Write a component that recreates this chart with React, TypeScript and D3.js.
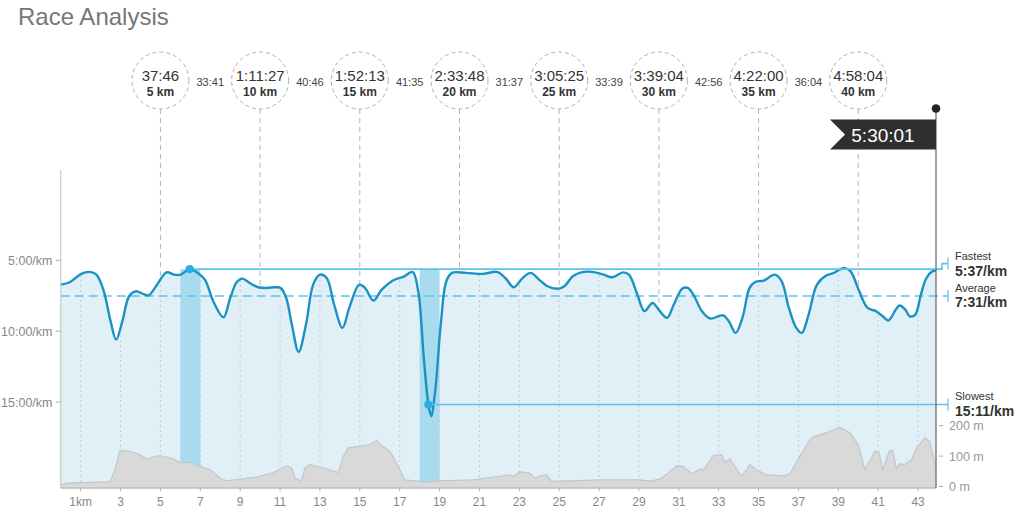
import React from "react";
import * as d3 from "d3";

// ---------- DATA ----------
const paceKm = [0, 0.47, 1.03, 1.45, 1.79, 2.16, 2.5, 2.78, 3.09, 3.43, 3.76, 4.13, 4.41, 4.83, 5.31, 5.68, 6.02, 6.47, 6.86, 7.23, 7.65, 8.16, 8.5, 8.83, 9.11, 9.48, 9.9, 10.33, 10.75, 11.03, 11.31, 11.59, 11.93, 12.3, 12.66, 13.0, 13.34, 13.71, 14.13, 14.47, 14.97, 15.26, 15.68, 16.1, 16.66, 17.23, 17.65, 17.93, 18.21, 18.44, 18.58, 18.78, 19.06, 19.34, 19.62, 20.33, 21.17, 21.88, 22.3, 22.72, 23.14, 23.57, 23.99, 24.41, 24.97, 25.26, 25.68, 26.1, 26.66, 27.23, 27.65, 28.21, 28.5, 28.92, 29.28, 29.68, 30.05, 30.41, 30.75, 31.17, 31.45, 31.73, 32.16, 32.58, 33.0, 33.23, 33.51, 33.85, 34.19, 34.55, 34.83, 35.26, 35.82, 36.16, 36.52, 36.89, 37.17, 37.51, 37.93, 38.41, 38.78, 39.06, 39.34, 39.62, 40.05, 40.47, 40.89, 41.23, 41.51, 41.88, 42.07, 42.36, 42.58, 42.86, 43.14, 43.42, 43.71, 43.9];
const paceMin = [6.72, 6.53, 5.96, 5.82, 6.01, 7.19, 9.3, 10.59, 9.3, 7.54, 7.19, 7.37, 7.47, 6.72, 5.85, 6.01, 6.01, 5.62, 5.89, 6.36, 7.89, 9.02, 7.66, 6.53, 6.29, 6.6, 6.9, 6.95, 6.9, 6.95, 7.66, 9.53, 11.46, 9.53, 6.72, 6.01, 6.25, 8.12, 9.77, 8.36, 6.72, 6.95, 7.84, 7.07, 6.43, 6.13, 5.82, 7.19, 11.88, 15.17, 15.99, 14.23, 9.53, 6.48, 5.89, 5.89, 5.96, 5.82, 6.25, 6.9, 6.29, 5.89, 6.36, 6.83, 7.0, 6.83, 6.13, 5.85, 5.82, 6.01, 6.2, 5.85, 6.01, 7.42, 8.59, 8.01, 8.59, 9.06, 8.12, 7.0, 6.95, 7.42, 8.59, 9.11, 8.95, 8.88, 9.3, 10.12, 9.06, 6.95, 6.53, 6.43, 6.01, 6.48, 8.36, 9.77, 10.12, 8.83, 6.72, 6.06, 5.89, 5.66, 5.55, 5.78, 7.19, 8.36, 8.59, 8.95, 9.25, 8.48, 8.19, 8.48, 8.95, 8.83, 7.42, 6.25, 5.78, 5.73];

const elevKm = [0, 0.3, 0.97, 2.47, 2.72, 2.97, 3.47, 3.97, 4.31, 4.64, 4.98, 5.64, 5.98, 6.48, 6.98, 7.48, 8.07, 8.32, 8.99, 9.83, 10.66, 11.33, 11.58, 11.75, 12.08, 12.25, 12.5, 13.17, 13.92, 14.17, 14.42, 15.01, 15.51, 15.88, 16.01, 16.51, 17.01, 17.26, 18.02, 18.52, 19.02, 20.69, 22.53, 22.7, 23.03, 23.53, 23.78, 24.04, 24.37, 24.62, 25.04, 27.04, 29.05, 29.55, 30.05, 30.47, 30.89, 31.22, 31.64, 32.06, 32.22, 32.73, 33.15, 33.31, 33.56, 34.15, 34.57, 34.9, 35.4, 36.24, 36.57, 37.07, 37.66, 38.41, 39.08, 39.58, 40.0, 40.33, 40.84, 41.05, 41.22, 41.55, 41.72, 41.92, 42.08, 42.33, 42.67, 42.93, 43.34, 43.59, 43.9];
const elevM = [5, 11, 13, 15, 55, 119, 116, 105, 91, 97, 102, 91, 79, 79, 66, 55, 24, 19, 24, 31, 46, 68, 61, 27, 19, 61, 72, 61, 46, 99, 127, 133, 138, 153, 138, 116, 55, 22, 17, 15, 19, 22, 38, 33, 49, 44, 27, 35, 38, 18, 18, 22, 22, 18, 24, 44, 68, 66, 42, 57, 53, 102, 105, 79, 91, 33, 72, 55, 38, 35, 42, 99, 161, 177, 194, 177, 138, 55, 116, 111, 55, 116, 119, 57, 75, 72, 88, 127, 161, 146, 61];

const splitKm = [5, 10, 15, 20, 25, 30, 35, 40];
const splitTimes = ["37:46", "1:11:27", "1:52:13", "2:33:48", "3:05:25", "3:39:04", "4:22:00", "4:58:04"];
const splitDiffs = ["33:41", "40:46", "41:35", "31:37", "33:39", "42:56", "36:04"];

const paceTicks = [5, 10, 15];
const paceTickLabels = ["5:00/km", "10:00/km", "15:00/km"];
const elevTicks = [0, 100, 200];
const kmTicks = [1, 3, 5, 7, 9, 11, 13, 15, 17, 19, 21, 23, 25, 27, 29, 31, 33, 35, 37, 39, 41, 43];

const fastest = { km: 6.47, pace: 5.62, label: "5:37/km", bandStart: 6, bandEnd: 7 };
const slowest = { km: 18.44, pace: 15.18, label: "15:11/km", bandStart: 18, bandEnd: 19 };
const average = { pace: 7.52, label: "7:31/km" };
const finishTime = "5:30:01";
const totalKm = 43.9;

// ---------- LAYOUT ----------
const W = 1024, H = 521;
const plotLeft = 60.75, plotRight = 936, plotTop = 170, plotBottom = 488;
const FONT = "'Liberation Sans', Arial, Helvetica, sans-serif";

export default function App() {
  const x = d3.scaleLinear().domain([0, totalKm]).range([plotLeft, plotRight]);
  const y = d3.scaleLinear().domain([5, 15]).range([260.3, 402]);
  const yE = d3.scaleLinear().domain([0, 200]).range([486.5, 425.7]);

  const pts: [number, number][] = paceKm.map((k, i) => [k, paceMin[i]]);
  const curve = d3.curveCatmullRom.alpha(0.5);
  const line = d3.line<[number, number]>().x(d => x(d[0])).y(d => y(d[1])).curve(curve);
  const area = d3.area<[number, number]>().x(d => x(d[0])).y0(plotBottom).y1(d => y(d[1])).curve(curve);

  const ePts: [number, number][] = elevKm.map((k, i) => [k, elevM[i]]);
  const eArea = d3.area<[number, number]>().x(d => x(d[0])).y0(plotBottom).y1(d => yE(d[1]));
  const eLine = d3.line<[number, number]>().x(d => x(d[0])).y(d => yE(d[1]));

  const paceAt = (k: number) => {
    const i = d3.bisector((d: number) => d).left(paceKm, k);
    if (i <= 0) return paceMin[0];
    if (i >= paceKm.length) return paceMin[paceMin.length - 1];
    const t = (k - paceKm[i - 1]) / (paceKm[i] - paceKm[i - 1]);
    return paceMin[i - 1] + t * (paceMin[i] - paceMin[i - 1]);
  };

  const circleY = 80.5, circleR = 28.5;
  const lineBlue = "#1a92c4";
  const lightBlue = "#5cc3ec";
  const yF = y(fastest.pace), yA = y(average.pace), yS = y(slowest.pace);
  const tickX = 948;

  return (
    <svg width={W} height={H} style={{ position: "absolute", left: 0, top: 0, background: "#fff" }} fontFamily={FONT}>
      <defs>
        <clipPath id="areaClip">
          <path d={area(pts) || ""} />
        </clipPath>
      </defs>
      <text x={18} y={25} fontSize={24} fill="#777" fontWeight={300}>Race Analysis</text>

      {/* pace area */}
      <path d={area(pts) || ""} fill="#e1eff7" />
      {/* bands */}
      <rect x={x(fastest.bandStart)} y={yF} width={x(fastest.bandEnd) - x(fastest.bandStart)} height={plotBottom - yF} fill="#a8dbee" />
      <rect x={x(slowest.bandStart)} y={yF} width={x(slowest.bandEnd) - x(slowest.bandStart)} height={plotBottom - yF} fill="#a8dbee" />

      {/* odd km grid lines inside area */}
      <g clipPath="url(#areaClip)">
        {kmTicks.map(k => (
          <line key={k} x1={x(k)} x2={x(k)} y1={plotTop} y2={plotBottom} stroke="#c4ccd2" strokeDasharray="2,3" strokeWidth={1} />
        ))}
      </g>

      {/* elevation */}
      <path d={eArea(ePts) || ""} fill="#d9d9d9" />
      <path d={eLine(ePts) || ""} fill="none" stroke="#bfc8ce" strokeWidth={1.2} />

      {/* split connectors and circles */}
      {splitKm.map((k, i) => (
        <g key={k}>
          <line x1={x(k)} x2={x(k)} y1={circleY + circleR} y2={y(paceAt(k))} stroke="#b5b5b5" strokeDasharray="5,4" />
          <circle cx={x(k)} cy={circleY} r={circleR} fill="#fff" stroke="#b0b0b0" strokeDasharray="4,3" />
          <text x={x(k)} y={81} textAnchor="middle" fontSize={15} fill="#333">{splitTimes[i]}</text>
          <text x={x(k)} y={95.5} textAnchor="middle" fontSize={12} fontWeight="bold" fill="#333">{k} km</text>
        </g>
      ))}
      {splitDiffs.map((s, i) => (
        <text key={s + i} x={x((splitKm[i] + splitKm[i + 1]) / 2)} y={86} textAnchor="middle" fontSize={11} fill="#444">{s}</text>
      ))}

      {/* average line */}
      <line x1={plotLeft} x2={tickX} y1={yA} y2={yA} stroke={lightBlue} strokeWidth={1.6} strokeDasharray="9,5" />
      <line x1={tickX} x2={tickX} y1={yA - 6} y2={yA + 6} stroke={lightBlue} strokeWidth={1.2} />

      {/* pace line */}
      <path d={line(pts) || ""} fill="none" stroke={lineBlue} strokeWidth={2.4} />

      {/* fastest */}
      <path d={`M${x(fastest.km)},${yF}H${942}V${yF - 5.5}H${tickX}`} fill="none" stroke={lightBlue} strokeWidth={1.6} />
      <line x1={tickX} x2={tickX} y1={yF - 11.5} y2={yF + 0.5} stroke={lightBlue} strokeWidth={1.2} />
      <circle cx={x(fastest.km)} cy={yF} r={4.2} fill="#2aace2" />
      {/* slowest */}
      <line x1={x(slowest.km)} x2={tickX} y1={yS} y2={yS} stroke={lightBlue} strokeWidth={1.6} />
      <line x1={tickX} x2={tickX} y1={yS - 6} y2={yS + 6} stroke={lightBlue} strokeWidth={1.2} />
      <circle cx={x(slowest.km)} cy={yS} r={4.2} fill="#2aace2" />

      {/* right labels */}
      <text x={955} y={260} fontSize={11} fill="#333">Fastest</text>
      <text x={955} y={275.5} fontSize={14} fontWeight="bold" fill="#333">{fastest.label}</text>
      <text x={955} y={292} fontSize={11} fill="#333">Average</text>
      <text x={955} y={307} fontSize={14} fontWeight="bold" fill="#333">{average.label}</text>
      <text x={955} y={400} fontSize={11} fill="#333">Slowest</text>
      <text x={955} y={415.5} fontSize={14} fontWeight="bold" fill="#333">{slowest.label}</text>

      {/* axes */}
      <line x1={plotLeft} x2={plotLeft} y1={plotTop} y2={plotBottom} stroke="#c8c8c8" strokeWidth={1.2} />
      <line x1={plotLeft} x2={plotRight} y1={plotBottom} y2={plotBottom} stroke="#bdbdbd" strokeWidth={1.5} />
      {paceTicks.map((p, i) => (
        <g key={p}>
          <line x1={plotLeft - 5} x2={plotLeft} y1={y(p)} y2={y(p)} stroke="#aaa" />
          <text x={52.5} y={y(p) + 4.5} textAnchor="end" fontSize={12.5} fill="#888">{paceTickLabels[i]}</text>
        </g>
      ))}
      {kmTicks.map((k, i) => (
        <g key={k}>
          <line x1={x(k)} x2={x(k)} y1={plotBottom} y2={plotBottom + 3} stroke="#aaa" />
          <text x={x(k)} y={506} textAnchor="middle" fontSize={12} fill="#888">{i === 0 ? `${k}km` : k}</text>
        </g>
      ))}
      {elevTicks.map(e => (
        <g key={e}>
          <line x1={plotRight + 3} x2={plotRight + 7} y1={yE(e)} y2={yE(e)} stroke="#aaa" />
          <text x={949} y={yE(e) + 4.5} fontSize={12.5} fill="#999">{e} m</text>
        </g>
      ))}

      {/* finish flag */}
      <line x1={plotRight} x2={plotRight} y1={108.5} y2={plotBottom} stroke="#666" strokeWidth={1.2} />
      <circle cx={plotRight} cy={108.5} r={4.3} fill="#222" />
      <path d={`M830,119.5 L${plotRight},119.5 L${plotRight},149.5 L830,149.5 L845,134.5 Z`} fill="#2f2f2f" />
      <text x={883} y={142} textAnchor="middle" fontSize={19} fill="#fff">{finishTime}</text>
    </svg>
  );
}
